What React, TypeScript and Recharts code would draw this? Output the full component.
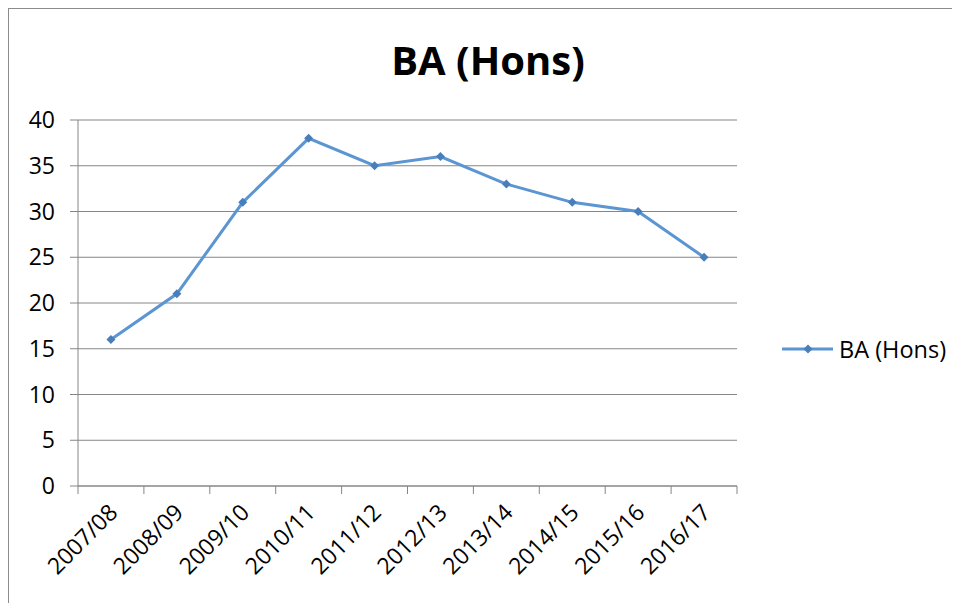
import React from "react";
import { LineChart, Line, XAxis, YAxis, CartesianGrid } from "recharts";

const years = [
  "2007/08", "2008/09", "2009/10", "2010/11", "2011/12",
  "2012/13", "2013/14", "2014/15", "2015/16", "2016/17",
];
const baHons = [16, 21, 31, 38, 35, 36, 33, 31, 30, 25];
const yTicks = [0, 5, 10, 15, 20, 25, 30, 35, 40];

const data = years.map((year, i) => ({ year, value: baHons[i] }));

const W = 950;
const H = 594;
const margin = { top: 111, right: 222, bottom: 37, left: 9 };
const yAxisWidth = 60;
const band = (W - margin.left - margin.right - yAxisWidth) / years.length;

const font = "'Open Sans', sans-serif";
const gridColor = "#868686";
const lineColor = "#5b95d2";
const markerColor = "#4a7ebb";

const Diamond = (props: any) => {
  const { cx, cy } = props;
  if (cx == null || cy == null) return null;
  const r = 4.5;
  return (
    <path
      d={`M${cx},${cy - r}L${cx + r},${cy}L${cx},${cy + r}L${cx - r},${cy}Z`}
      fill={markerColor}
    />
  );
};

const YearTick = (props: any) => {
  const { x, y, payload, index } = props;
  return (
    <g>
      <line x1={x - band / 2} y1={y} x2={x - band / 2} y2={y + 8} stroke={gridColor} />
      {index === years.length - 1 && (
        <line x1={x + band / 2} y1={y} x2={x + band / 2} y2={y + 8} stroke={gridColor} />
      )}
      <text
        transform={`translate(${x + 8},${y + 28}) rotate(-45)`}
        textAnchor="end"
        fontFamily={font}
        fontSize={23}
        fill="#000"
      >
        {payload.value}
      </text>
    </g>
  );
};

export default function App() {
  return (
    <div
      style={{
        position: "relative",
        width: 951,
        height: 595,
        borderTop: "1px solid #8c8c8c",
        borderLeft: "1px solid #8c8c8c",
        background: "#fff",
      }}
    >
      <div
        style={{
          position: "absolute",
          top: 31,
          left: 0,
          width: 958,
          textAlign: "center",
          fontFamily: font,
          fontWeight: 700,
          fontSize: 40,
          lineHeight: 1,
          color: "#000",
        }}
      >
        BA (Hons)
      </div>
      <LineChart width={W} height={H} data={data} margin={margin}>
        <CartesianGrid vertical={false} stroke={gridColor} />
        <XAxis
          dataKey="year"
          scale="band"
          interval={0}
          tickLine={false}
          tickSize={0}
          tickMargin={0}
          height={80}
          axisLine={{ stroke: gridColor }}
          tick={<YearTick />}
        />
        <YAxis
          domain={[0, 40]}
          ticks={yTicks}
          width={yAxisWidth}
          tickSize={8}
          tickMargin={15}
          axisLine={{ stroke: gridColor }}
          tickLine={{ stroke: gridColor }}
          tick={{ fontFamily: font, fontSize: 23, fill: "#000" }}
        />
        <Line
          type="linear"
          dataKey="value"
          name="BA (Hons)"
          stroke={lineColor}
          strokeWidth={3}
          dot={<Diamond />}
          activeDot={false}
          isAnimationActive={false}
        />
      </LineChart>
      <div
        style={{
          position: "absolute",
          left: 773,
          top: 324,
          display: "flex",
          alignItems: "center",
          fontFamily: font,
          fontSize: 23.5,
          color: "#000",
        }}
      >
        <svg width={57} height={30}>
          <line x1={0} y1={15} x2={51} y2={15} stroke={lineColor} strokeWidth={3} />
          <path d="M26,10.5L30.5,15L26,19.5L21.5,15Z" fill={markerColor} />
        </svg>
        <span>BA (Hons)</span>
      </div>
    </div>
  );
}
